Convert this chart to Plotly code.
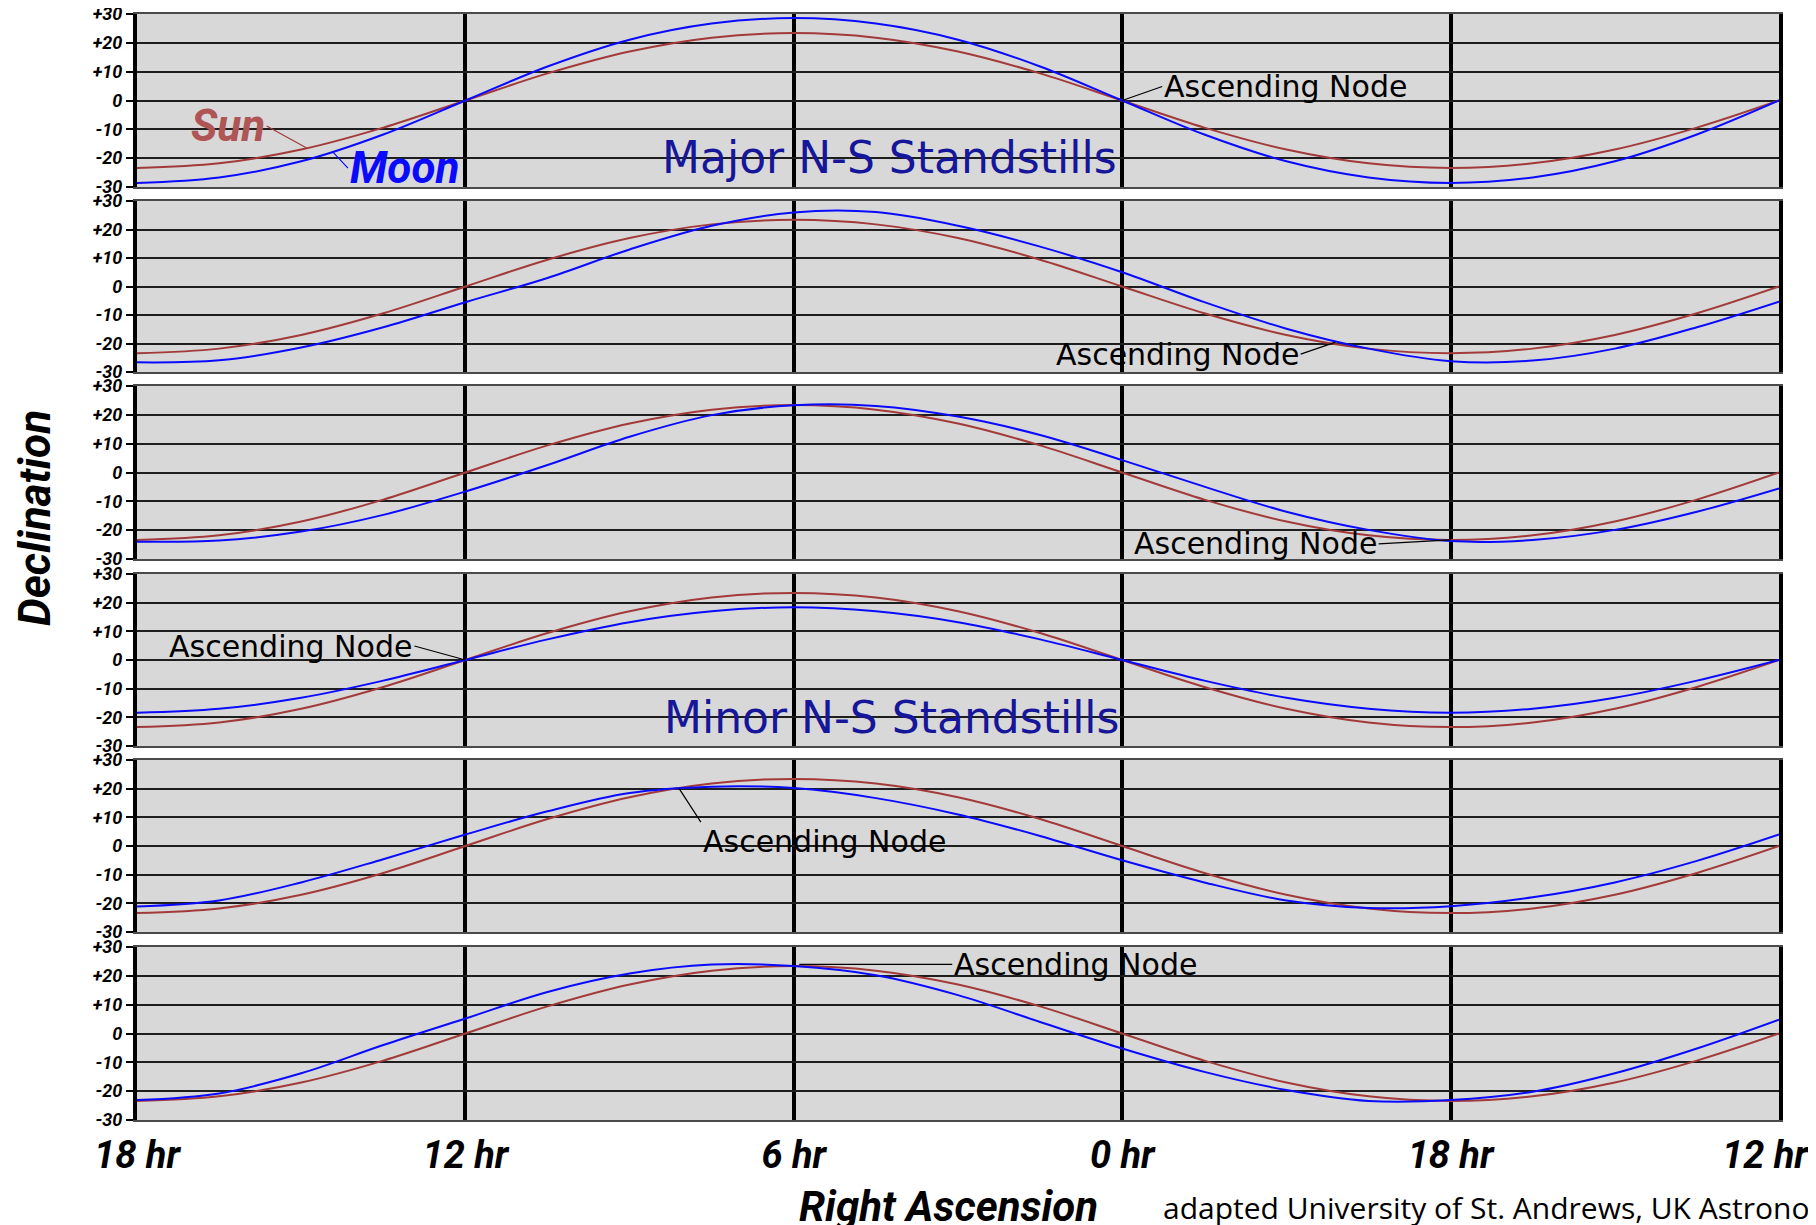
import plotly.graph_objects as go

# hours counted from the left edge (18 hr) towards the right edge (12 hr)
ELAPSED = [0, 1.5, 3, 4.5, 6, 7.5, 9, 10.5, 12, 13.5, 15, 16.5, 18, 19.5, 21, 22.5, 24, 25.5, 27, 28.5, 30]
RA_TICKS = [0, 6, 12, 18, 24, 30]
RA_LABELS = ['18 hr', '12 hr', '6 hr', '0 hr', '18 hr', '12 hr']
DEC_TICKS = [-30, -20, -10, 0, 10, 20, 30]
DEC_LABELS = ['-30', '-20', '-10', '0', '+10', '+20', '+30']

SUN = [-23.4, -21.8, -17.0, -9.4, 0, 9.4, 17.0, 21.8, 23.4, 21.8, 17.0, 9.4, 0,
       -9.4, -17.0, -21.8, -23.4, -21.8, -17.0, -9.4, 0]

MOON_1 = [-28.6, -26.7, -21.1, -11.8, 0, 11.8, 21.1, 26.7, 28.6, 26.7, 21.1, 11.8, 0,
          -11.8, -21.1, -26.7, -28.6, -26.7, -21.1, -11.8, 0]
MOON_2 = [-26.6, -25.9, -21.4, -14.3, -5.5, 3.0, 13.0, 21.3, 26.0, 26.1, 21.3, 14.0, 5.0,
          -5.5, -14.8, -21.8, -26.2, -26.0, -21.8, -14.3, -5.3]
MOON_3 = [-24.0, -23.6, -20.5, -14.7, -6.6, 2.6, 12.4, 19.9, 23.3, 23.1, 19.4, 13.0, 4.3,
          -4.9, -13.6, -19.9, -23.8, -23.4, -19.9, -13.6, -5.5]
MOON_4 = [-18.4, -17.0, -13.2, -7.2, 0, 7.2, 13.2, 17.0, 18.4, 17.0, 13.2, 7.2, 0,
          -7.2, -13.2, -17.0, -18.4, -17.0, -13.2, -7.2, 0]
MOON_5 = [-21.1, -19.0, -12.7, -4.6, 4.0, 12.1, 18.5, 20.7, 20.2, 16.7, 11.0, 3.5, -5.0,
          -12.7, -19.0, -21.6, -21.0, -17.9, -12.7, -5.2, 4.0]
MOON_6 = [-23.1, -20.8, -13.8, -4.0, 5.2, 14.4, 20.8, 23.9, 23.4, 20.2, 13.3, 4.0, -5.2,
          -13.3, -19.6, -23.4, -23.1, -20.2, -13.8, -5.2, 4.8]
MOONS = [MOON_1, MOON_2, MOON_3, MOON_4, MOON_5, MOON_6]

# where the "Ascending Node" pointer touches each panel
NODE_X = [18, 21.9, 24, 6, 9.9, 12.1]
NODE_Y = [0, -19.5, -23.4, 0, 20.2, 24.0]

NARROW = 'Roboto, Liberation Sans, sans-serif'
HAND = 'DejaVu Sans, sans-serif'
SUN_COLOR = '#a33a3a'
MOON_COLOR = '#0a0aff'
TITLE_BLUE = '#16169a'

# the page puts the figure 8px in from the window corner
PAGE = 8
W, H = 1816 - PAGE, 1225 - PAGE
PANEL_TOP = [t - PAGE for t in [14, 201, 386, 574, 760, 947]]
PANEL_BOTTOM = [b - PAGE for b in [187, 372, 559, 746, 932, 1120]]
LEFT, RIGHT = 137 - PAGE, W - (1779 - PAGE)
TOP, BOTTOM = PANEL_TOP[0], H - PANEL_BOTTOM[-1]
plot_h = H - TOP - BOTTOM
plot_w = W - LEFT - RIGHT


def paper_x(px):
    return (px - PAGE - LEFT) / plot_w


def paper_y(py):
    return (H - BOTTOM - (py - PAGE)) / plot_h


# last label sits against the page edge, pad it so it stays inside
ra_text = RA_LABELS[:-1] + [RA_LABELS[-1] + '\u00a0\u00a0\u00a0']

fig = go.Figure()
layout = {}
for i in range(6):
    n = '' if i == 0 else str(i + 1)
    fig.add_trace(go.Scatter(x=ELAPSED, y=SUN, xaxis='x' + n, yaxis='y' + n, mode='lines',
                             line=dict(color=SUN_COLOR, width=2, shape='spline'),
                             showlegend=False, hoverinfo='skip'))
    fig.add_trace(go.Scatter(x=ELAPSED, y=MOONS[i], xaxis='x' + n, yaxis='y' + n, mode='lines',
                             line=dict(color=MOON_COLOR, width=2, shape='spline'),
                             showlegend=False, hoverinfo='skip'))
    dom = [(H - BOTTOM - PANEL_BOTTOM[i]) / plot_h, (H - BOTTOM - PANEL_TOP[i]) / plot_h]
    layout['xaxis' + n] = dict(
        domain=[0, 1], anchor='y' + n, range=[0, 30], automargin=False,
        tickvals=RA_TICKS, ticktext=ra_text, showticklabels=(i == 5), ticks='',
        ticklabeloverflow='allow',
        tickfont=dict(family=NARROW, size=38, color='black', style='italic', weight='bold'),
        showgrid=True, gridcolor='black', gridwidth=4,
        showline=True, mirror=True, linecolor='#4a4a4a', linewidth=2, zeroline=False)
    layout['yaxis' + n] = dict(
        domain=dom, anchor='x' + n, range=[-30, 30], automargin=False,
        tickvals=DEC_TICKS, ticktext=DEC_LABELS, ticks='outside', ticklen=7,
        tickwidth=2, tickcolor='black', ticklabeloverflow='allow',
        tickfont=dict(family=NARROW, size=18, color='black', style='italic', weight='bold'),
        showgrid=True, gridcolor='#1e1e1e', gridwidth=2,
        showline=True, mirror=True, linecolor='black', linewidth=4, zeroline=False)

# leader tail (pixels from the pointer) and which side of the label it meets
node_tails = [(40, -14, 'left', 'middle'), (-35, 12, 'right', 'middle'),
              (-72, 4, 'right', 'middle'), (-51, -14, 'right', 'middle'),
              (22, 34, 'left', 'top'), (153, 0, 'left', 'middle')]
annotations = []
for i in range(6):
    n = '' if i == 0 else str(i + 1)
    ax, ay, xa, ya = node_tails[i]
    annotations.append(dict(
        x=NODE_X[i], y=NODE_Y[i], xref='x' + n, yref='y' + n, text='Ascending Node',
        showarrow=True, arrowhead=0, arrowwidth=1.2, arrowcolor='black', standoff=0,
        ax=ax, ay=ay, xanchor=xa, yanchor=ya,
        font=dict(family=HAND, size=30, color='black')))

annotations += [
    dict(x=3.1, y=-16.5, xref='x', yref='y', text='Sun', showarrow=True, arrowhead=0,
         arrowwidth=1.2, arrowcolor=SUN_COLOR, ax=-40, ay=-22, standoff=0,
         xanchor='right', yanchor='middle',
         font=dict(family=NARROW, size=44, color='#b05555', style='italic', weight='bold')),
    dict(x=3.58, y=-17.9, xref='x', yref='y', text='Moon', showarrow=True, arrowhead=0,
         arrowwidth=1.2, arrowcolor=MOON_COLOR, ax=15, ay=16, standoff=0,
         xanchor='left', yanchor='middle',
         font=dict(family=NARROW, size=44, color=MOON_COLOR, style='italic', weight='bold')),
    dict(x=13.74, y=-19.9, xref='x', yref='y', text='Major N-S Standstills', showarrow=False,
         font=dict(family=HAND, size=44, color=TITLE_BLUE)),
    dict(x=13.79, y=-20.2, xref='x4', yref='y4', text='Minor N-S Standstills', showarrow=False,
         font=dict(family=HAND, size=44, color=TITLE_BLUE)),
    dict(x=paper_x(35), y=paper_y(518), xref='paper', yref='paper',
         xanchor='center', yanchor='middle',
         text='Declination', textangle=-90, showarrow=False,
         font=dict(family=NARROW, size=44, color='black', style='italic', weight='bold')),
    dict(x=paper_x(948), y=paper_y(1206), xref='paper', yref='paper',
         xanchor='center', yanchor='middle',
         text='Right Ascension', showarrow=False,
         font=dict(family=NARROW, size=42, color='black', style='italic', weight='bold')),
    dict(x=paper_x(1161), y=paper_y(1207), xref='paper', yref='paper',
         xanchor='left', yanchor='middle',
         text='adapted University of St. Andrews, UK Astronomy', showarrow=False,
         font=dict(family='Open Sans, sans-serif', size=30, color='black')),
]

fig.update_layout(
    width=W, height=H,
    margin=dict(l=LEFT, r=RIGHT, t=TOP, b=BOTTOM),
    paper_bgcolor='white',
    plot_bgcolor='#d8d8d8',
    annotations=annotations,
    **layout
)

fig.write_html("out.html")
